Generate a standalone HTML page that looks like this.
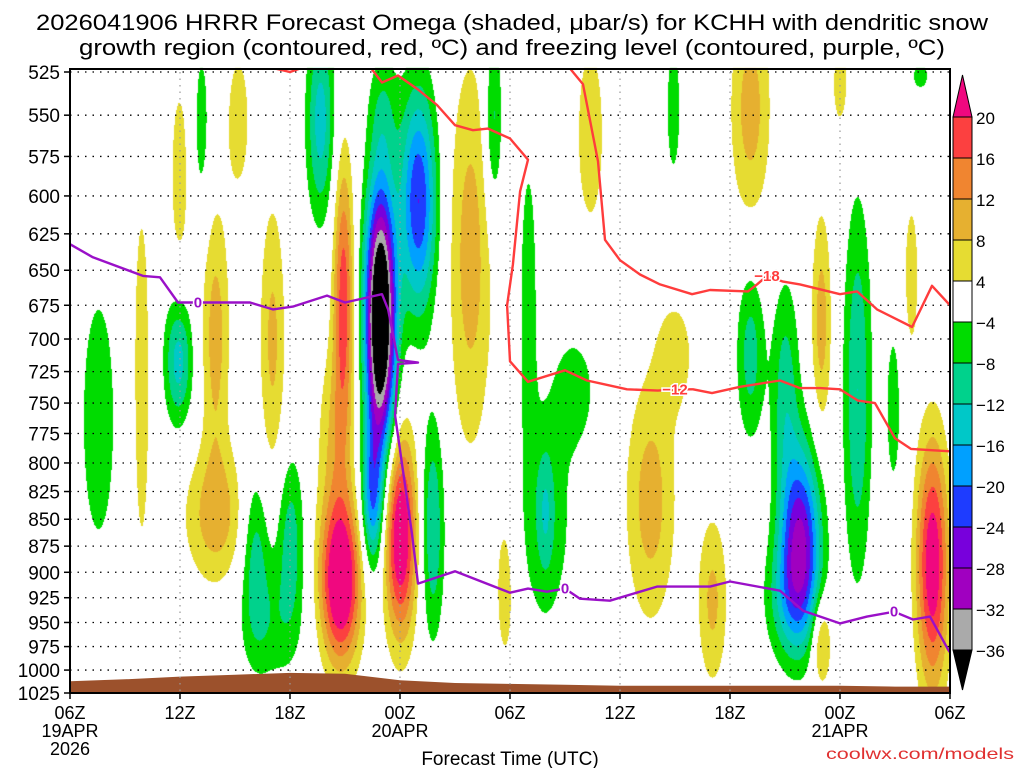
<!DOCTYPE html>
<html><head><meta charset="utf-8">
<style>
html,body{margin:0;padding:0;background:#fff;}
#wrap{position:relative;width:1024px;height:768px;overflow:hidden;font-family:"Liberation Sans","DejaVu Sans",sans-serif;}
canvas{position:absolute;left:0;top:0;}
svg{position:absolute;left:0;top:0;}
</style></head>
<body>
<div id="wrap">
<canvas id="cv" width="1024" height="768"></canvas>
<svg id="sv" width="1024" height="768" xmlns="http://www.w3.org/2000/svg"></svg>
</div>
<script>
// ---- data ----
const blobTime  = [1.53,3.87,5.95,7.15,9.16,3.87,5.89,7.91,7.91,11.02,10.09,12.0,10.91,14.73,14.89,14.45,13.64,16.91,16.47,17.07,18.98,19.75,18.0,21.82,23.07,23.73,24.98,25.91,27.55,25.91,28.36,32.89,37.09,31.64,33.0,35.02,39.82,37.09,39.0,39.27,40.96,42.93,40.96,44.89,45.87,47.02,46.36,42.0];
const blobPres  = [763,527,587,557,553,730,716,697,846,701,880,868,952,909,666,780,553,684,832,546,603,857,864,640,553,915,666,846,739,842,561,546,546,833,711,927,868,711,739,926,687,739,969,754,653,892,527,532];
const blobPeak  = [-6,-5,6,-6,6,6,-14,10,10,9,-10,-10,-6,28,18,8,-14,-50,-18,-6,-24,-12,26,10,-10,6,-7,-7,-6,-6,6,-6,10,10,6,9,-27,-10,-10,-10,10,-12,11,-6,6,24,-6,6];
const blobHours = [1.25,0.49,0.6,0.49,0.76,0.6,0.76,0.76,1.69,0.71,0.76,0.76,1.64,1.09,0.55,0.98,0.76,0.82,0.6,0.82,0.98,0.65,0.87,1.2,0.49,0.65,0.49,1.53,1.2,0.44,0.98,0.49,1.09,1.36,1.09,0.82,1.09,0.76,0.76,1.36,0.55,0.76,0.55,0.49,0.49,0.87,0.55,0.55];
const blobHpa   = [155,32,78,62,54,214,51,102,65,115,85,84,65,82,104,87,61,103,65,37,76,108,98,150,58,102,114,118,50,56,79,53,69,117,48,90,90,69,93,63,87,162,48,84,68,125,10,32];

const levels = [-36,-32,-28,-24,-20,-16,-12,-8,-4,4,8,12,16,20];
const levelColors = ['#000000','#aaaaaa','#a000c0','#7800dc','#1e3cff','#00a0ff','#00c8c8','#00d28c','#00dc00','#ffffff','#e6dc32','#e6b030','#f08530','#fc4040','#f0087f'];
const levelLabels = ['20','16','12','8','4','\u22124','\u22128','\u221212','\u221216','\u221220','\u221224','\u221228','\u221232','\u221236'];

const pTicks = [525,550,575,600,625,650,675,700,725,750,775,800,825,850,875,900,925,950,975,1000,1025];
const tTicks = [0,6,12,18,24,30,36,42,48];
const tLabels = ['06Z','12Z','18Z','00Z','06Z','12Z','18Z','00Z','06Z'];

const frzT = [0,1.25,3.98,4.91,5.89,6.98,9.82,11.07,12.16,14.02,15.0,17.02,17.35,17.89,18.98,17.89,17.73,18.65,18.98,21.0,24.0,24.98,26.02,27.0,27.82,29.45,32.02,34.91,36.0,38.73,39.98,42.0,43.47,44.95,45.98,46.91,47.89,48];
const frzP = [632,641,654,655,673,673,673,678,676,668,673,667,678,716,718,719,760,863,911,899,920,916,919,916,926,928,914,914,909,918,938,951,944,939,947,944,978,981];
const frzLabelT = [6.98,27.0,44.95];
const frzLabelP = [673,916,939];

const dgzAT = [10.75,12.0,12.55];
const dgzAP = [522,525,523];
const dgzBT = [16.36,17.02,17.89,18.98,20.02,21.0,21.98,22.8,24.0,24.98,24.55,24.16,23.84,24.0,24.98,27.0,28.2,30.38,32.07,33.0,33.98,35.02,36.55,38.73,39.82,40.91,42.0,42.98,43.91,45.0,45.87,48.0];
const dgzBP = [522,531,527,535,544,556,559,558,564,577,597,646,675,717,733,724,732,739,740,739,739,742,737,732,738,738,739,748,750,779,788,790];
const dgzCT = [27.27,27.98,28.8,29.18,30.0,31.09,32.18,33.93,34.91,36.98,37.47,38.02,38.89,39.82,42.0,42.93,44.02,45.93,47.02,48.0];
const dgzCP = [523,532,578,629,643,653,660,667,664,665,660,654,658,660,667,665,678,691,661,675];
const dgzLabelT = [33.0,38.02];
const dgzLabelP = [739,654];
const dgzLabelText = ['\u221212','\u221218'];

const sfcT = [0,3,6,9,12,15,18,21,24,27,30,33,36,39,42,45,48];
const sfcP = [1012,1010,1007,1005,1003,1004,1011,1014,1015,1016,1017,1017,1017,1017,1017,1018,1018];

// ---- axes ----
const X0=70,X1=950,Y0=72,Y1=693;
const lnTop=Math.log(525), lnBot=Math.log(1025);
function xOf(t){return X0+(t/48)*(X1-X0);}
function yOf(p){return Y0+(Math.log(p)-lnTop)/(lnBot-lnTop)*(Y1-Y0);}

// ---- shading ----
const cv=document.getElementById('cv'),ctx=cv.getContext('2d');
const img=ctx.createImageData(1024,768);
function hex(c){return [parseInt(c.substr(1,2),16),parseInt(c.substr(3,2),16),parseInt(c.substr(5,2),16)];}
const rgb=levelColors.map(hex);
const B=blobTime.map((t,i)=>{const cy=yOf(blobPres[i]);return{cx:xOf(t),cy:cy,rx:blobHours[i]*(X1-X0)/48,ry:Math.abs(yOf(blobPres[i]+blobHpa[i])-cy),a:blobPeak[i]};});
for(let y=68;y<Y1;y++){for(let x=X0;x<X1;x++){let v=0;
 for(const b of B){const dx=(x-b.cx)/b.rx,dy=(y-b.cy)/b.ry;const d=dx*dx+dy*dy;if(d<16)v+=b.a*Math.exp(-d);}
 let k=0;while(k<levels.length&&v>=levels[k])k++;
 const c=rgb[k],o=(y*1024+x)*4;img.data[o]=c[0];img.data[o+1]=c[1];img.data[o+2]=c[2];img.data[o+3]=255;}}
ctx.putImageData(img,0,0);

// ---- svg ----
const NS='http://www.w3.org/2000/svg',sv=document.getElementById('sv');
function el(tag,attrs,parent){const e=document.createElementNS(NS,tag);for(const k in attrs)e.setAttribute(k,attrs[k]);(parent||sv).appendChild(e);return e;}
function txt(s,attrs,parent){const e=el('text',attrs,parent);e.textContent=s;return e;}

// terrain
let d='M'+X0+','+Y1;sfcT.forEach((t,i)=>{d+=' L'+xOf(t).toFixed(1)+','+yOf(sfcP[i]).toFixed(1);});d+=' L'+X1+','+Y1+' Z';
const terr=el('path',{d:d,fill:'#9c512c'});



// grid
pTicks.forEach(p=>{const y=yOf(p);
 const g=el('line',{x1:X0,x2:X1,y1:y,y2:y,stroke:'#000','stroke-width':1.3,'stroke-dasharray':'1.5,6'});
 
 
 el('line',{x1:X0-6,x2:X0,y1:y,y2:y,stroke:'#000','stroke-width':1.5});
 const l=txt(String(p),{x:X0-10,y:y+7,'text-anchor':'end','font-size':19,fill:'#000'});
 
 
});
tTicks.forEach((t,i)=>{const x=xOf(t);
 if(i>0&&i<tTicks.length-1){const g=el('line',{x1:x,x2:x,y1:Y0,y2:Y1,stroke:'#999','stroke-width':1.2,'stroke-dasharray':'1.5,5'});
 
 }
 el('line',{x1:x,x2:x,y1:Y1,y2:Y1+6,stroke:'#000','stroke-width':1.5});
 const l=txt(tLabels[i],{x:x,y:719,'text-anchor':'middle','font-size':18,fill:'#000'});
 
 
});
[[0,'19APR'],[18,'20APR'],[42,'21APR']].forEach(a=>{const l=txt(a[1],{x:xOf(a[0]),y:737,'text-anchor':'middle','font-size':18,fill:'#000'});
 
 });
const yr=txt('2026',{x:xOf(0),y:755,'text-anchor':'middle','font-size':18,fill:'#000'});



// contour lines
const clip=el('clipPath',{id:'pc'});el('rect',{x:X0,y:68,width:X1-X0,height:Y1-68},clip);
function line(ts,ps,color,name){let s='';ts.forEach((t,i)=>{s+=(i?' L':'M')+xOf(t).toFixed(1)+','+yOf(ps[i]).toFixed(1);});
 const e=el('path',{d:s,fill:'none',stroke:color,'stroke-width':2.4,'stroke-linejoin':'round','clip-path':'url(#pc)'});
 
 }
line(dgzAT,dgzAP,'#ff3c3c','dgz-line-top');
line(dgzBT,dgzBP,'#ff3c3c','dgz-line-minus12');
line(dgzCT,dgzCP,'#ff3c3c','dgz-line-minus18');
line(frzT,frzP,'#9a10c8','freezing-level-line');
frzLabelT.forEach((t,i)=>{const l=txt('0',{x:xOf(t),y:yOf(frzLabelP[i])+5,'text-anchor':'middle','font-size':15,'font-weight':'bold',fill:'#9a10c8',stroke:'#fff','stroke-width':3,'paint-order':'stroke'});
 
 });
dgzLabelT.forEach((t,i)=>{const l=txt(dgzLabelText[i],{x:xOf(t),y:yOf(dgzLabelP[i])+5,'text-anchor':'middle','font-size':15,'font-weight':'bold',fill:'#ff3c3c',stroke:'#fff','stroke-width':3,'paint-order':'stroke'});
 
 });

// frame
const fr=el('rect',{x:X0,y:Y0-3,width:X1-X0,height:Y1-Y0+3,fill:'none',stroke:'#000','stroke-width':2});



// colorbar
const CB={x:953,w:19,top:117,h:41};
const cbg=el('g',{});


for(let k=levels.length-1;k>=1;k--){const i=levels.length-1-k;
 el('rect',{x:CB.x,y:CB.top+i*CB.h,width:CB.w,height:CB.h,fill:levelColors[k],stroke:'#000','stroke-width':1},cbg);}
el('polygon',{points:`${CB.x},${CB.top} ${CB.x+CB.w},${CB.top} ${CB.x+CB.w/2},75`,fill:levelColors[levelColors.length-1],stroke:'#000','stroke-width':1},cbg);
const cbBot=CB.top+(levels.length-1)*CB.h;
el('polygon',{points:`${CB.x},${cbBot} ${CB.x+CB.w},${cbBot} ${CB.x+CB.w/2},690`,fill:levelColors[0],stroke:'#000','stroke-width':1},cbg);
levelLabels.forEach((s,i)=>{const l=txt(s,{x:CB.x+CB.w+4,y:CB.top+i*CB.h+7,'font-size':17,fill:'#000'},cbg);
 
 });

// titles
const t1=txt('2026041906 HRRR Forecast Omega (shaded, \u03bcbar/s) for KCHH with dendritic snow',{x:512,y:30,'text-anchor':'middle','font-size':22,textLength:952,lengthAdjust:'spacingAndGlyphs',fill:'#000'});


const t2=txt('growth region (contoured, red, \u00baC) and freezing level (contoured, purple, \u00baC)',{x:512,y:55,'text-anchor':'middle','font-size':22,textLength:866,lengthAdjust:'spacingAndGlyphs',fill:'#000'});


const xt=txt('Forecast Time (UTC)',{x:510,y:765,'text-anchor':'middle','font-size':19,fill:'#000'});


const cr=txt('coolwx.com/models',{x:1014,y:759,'text-anchor':'end','font-size':16,fill:'#e03030',textLength:188,lengthAdjust:'spacingAndGlyphs'});


</script>
</body></html>
